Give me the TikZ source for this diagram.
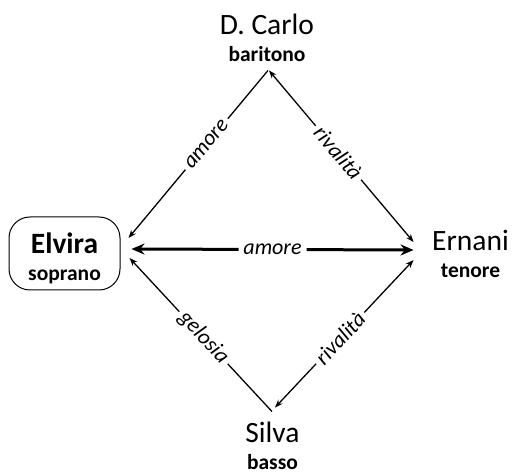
\documentclass[tikz,border=0pt]{standalone}
\usepackage{fontspec}
\setmainfont{Carlito}
\usetikzlibrary{arrows.meta}
\newcommand{\namefont}{\fontsize{29.5}{27}\selectfont}
\newcommand{\rolefont}{\fontsize{21.5}{27}\selectfont\bfseries}
\newcommand{\linkfont}{\fontsize{22}{24}\selectfont\itshape}
\begin{document}
\begin{tikzpicture}[x=1pt, y=-1pt, line width=1.3pt,
  role/.style={align=center, inner sep=0pt, font=\namefont},
  arr/.tip={Stealth[length=8pt, width=6pt]},
  bigarr/.tip={Stealth[length=13pt, width=11pt]},
  tag/.style={sloped, fill=white, inner sep=4pt, font=\linkfont}]
  \useasboundingbox (0,0) rectangle (512,473);
  \node[role] (carlo) at (267,38) {D. Carlo\\{\rolefont baritono}};
  \node[role, draw, line width=1pt, rounded corners=21pt, minimum width=111pt,
    minimum height=73pt, font=\namefont\bfseries] (elvira) at (64.5,253.5)
    {\rule{0pt}{30pt}Elvira\\{\rolefont soprano}};
  \node[role] (ernani) at (470.5,253.5) {Ernani\\{\rolefont tenore}};
  \node[role] (silva) at (272.5,445.5) {Silva\\{\rolefont basso}};
  \coordinate (carlo-l) at ([shift={(1,8)}]carlo.south);
  \coordinate (carlo-r) at ([shift={(2,8)}]carlo.south);
  \coordinate (elvira-hi) at ([shift={(8,-15.5)}]elvira.east);
  \coordinate (elvira-mid) at ([shift={(11,-4.5)}]elvira.east);
  \coordinate (elvira-lo) at ([shift={(9,4.5)}]elvira.east);
  \coordinate (ernani-hi) at ([shift={(-18,-11.5)}]ernani.west);
  \coordinate (ernani-mid) at ([shift={(-18,-3.5)}]ernani.west);
  \coordinate (ernani-lo) at ([shift={(-18,6.5)}]ernani.west);
  \coordinate (silva-l) at ([shift={(-0.5,-9.5)}]silva.north);
  \coordinate (silva-r) at ([shift={(2.5,-13.5)}]silva.north);
  \draw[-arr] (carlo-l) -- node[tag, pos=0.44] {amore} (elvira-hi);
  \draw[arr-arr] (carlo-r) -- node[tag, pos=0.48] {rivalità} (ernani-hi);
  \draw[-arr] (silva-l) -- node[tag, pos=0.48] {gelosia} (elvira-lo);
  \draw[arr-arr] (silva-r) -- node[tag, pos=0.47] {rivalità} (ernani-lo);
  \draw[line width=3pt, bigarr-bigarr] (elvira-mid) -- node[tag, inner xsep=5pt] {amore} (ernani-mid);
\end{tikzpicture}
\end{document}
